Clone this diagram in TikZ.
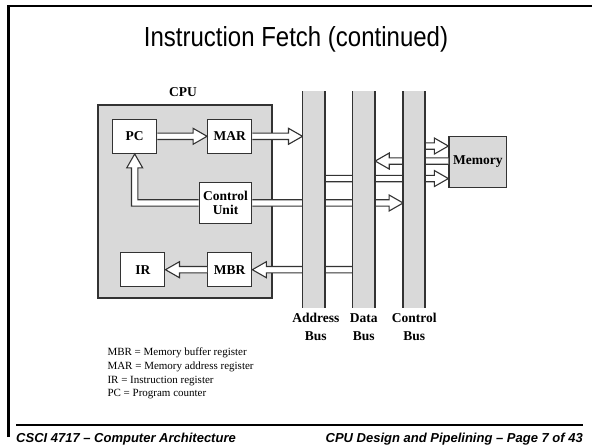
\documentclass[tikz,border=0pt]{standalone}
\usepackage{fontspec}
\setmainfont{Liberation Serif}
\newfontfamily\arialfont{Liberation Sans}
\usetikzlibrary{calc}
\definecolor{figgray}{HTML}{D9D9D9}
\definecolor{figline}{HTML}{333333}
\tikzset{
  regbox/.style={draw=figline, line width=1.3pt, fill=white, inner sep=0pt, align=center,
    font=\bfseries\fontsize{13.5}{14.5}\selectfont, minimum width=44pt, minimum height=34pt},
  fatshape/.style={draw=figline, line width=1.1pt, fill=white, line join=miter},
  busline/.style={draw=figline, line width=1.8pt},
  buslabel/.style={anchor=north, inner sep=0pt, align=center, font=\bfseries\fontsize{13.5}{18}\selectfont},
  legend/.style={anchor=west, inner sep=0pt, font=\fontsize{11}{12}\selectfont},
  footer/.style={inner sep=0pt, font=\arialfont\bfseries\itshape\fontsize{13}{15}\selectfont},
  frameline/.style={draw=black, line width=2.5pt},
}
% hollow fat arrow from #1 (tail) to #2 (tip)
\newcommand\fatarrow[2]{%
  \coordinate (fatB) at ($(#2)!14pt!(#1)$);
  \path[fatshape] ($(#1)!3.2pt!90:(#2)$) -- ($(fatB)!3.2pt!90:(#2)$) -- ($(fatB)!8pt!90:(#2)$)
     -- (#2) -- ($(fatB)!8pt!-90:(#2)$) -- ($(fatB)!3.2pt!-90:(#2)$) -- ($(#1)!3.2pt!-90:(#2)$);
}
\begin{document}
\begin{tikzpicture}[x=1pt, y=-1pt]
\useasboundingbox (0,0) rectangle (592,446);
% slide frame
\draw[frameline, line join=miter] (8.5,437) -- (8.5,6) -- (592,6);
\draw[frameline] (16,425) -- (583,425);
% title
\node[inner sep=0pt, anchor=base] (title) at (296,47) {\scalebox{1}[1.15]{\arialfont\fontsize{24}{28}\selectfont Instruction Fetch (continued)}};
% footer
\node[footer, anchor=base west] (footl) at (16,442) {CSCI 4717 – Computer Architecture};
\node[footer, anchor=base east] (footr) at (583,442) {CPU Design and Pipelining – Page 7 of 43};

% CPU
\node[draw=figline, line width=1.8pt, fill=figgray, minimum width=173.4pt, minimum height=193pt, inner sep=0pt] (cpu) at (185,201.5) {};
\node[inner sep=0pt, font=\bfseries\fontsize{13.5}{14.5}\selectfont] (cpulabel) at (183,92) {CPU};
\node[regbox] (pc) at (134.7,136.3) {PC};
\node[regbox] (mar) at (229.7,136.3) {MAR};
\node[regbox, minimum width=52.4pt, minimum height=40.7pt] (cu) at (225.5,203) {Control\\[-1pt]Unit};
\node[regbox] (ir) at (142.8,269.7) {IR};
\node[regbox] (mbr) at (229.7,269.7) {MBR};

% buses (placeholders for anchors)
\path node[minimum width=22.3pt, minimum height=216.3pt, inner sep=0pt] (abus) at (313.85,199.85) {}
      node[minimum width=22.3pt, minimum height=216.3pt, inner sep=0pt] (dbus) at (363.85,199.85) {}
      node[minimum width=21.7pt, minimum height=216.3pt, inner sep=0pt] (cbus) at (414.15,199.85) {};

% memory
\node[draw=figline, line width=1.3pt, fill=figgray, minimum width=57.7pt, minimum height=50.6pt, inner sep=0pt,
      font=\bfseries\fontsize{13.5}{14.5}\selectfont] (mem) at (477.85,162) {Memory};

% CPU internal arrows
\fatarrow{pc.east}{mar.west}
\coordinate (a1) at (mar.east -| abus.west);
\fatarrow{mar.east}{a1}
\fatarrow{mbr.west}{ir.east}
\coordinate (d1) at (mbr.east -| dbus.center);
\fatarrow{d1}{mbr.east}
\coordinate (c1) at (cu.east -| cbus.west);
\fatarrow{cu.east}{c1}
% control unit -> PC (L-shaped)
\path[fatshape] ($(cu.west)+(0,-3.2)$) -- ($(pc.south |- cu.west)+(3.2,-3.2)$) -- ($(pc.south)+(3.2,14)$)
   -- ($(pc.south)+(8,14)$) -- (pc.south) -- ($(pc.south)+(-8,14)$) -- ($(pc.south)+(-3.2,14)$)
   -- ($(pc.south |- cu.west)+(-3.2,3.2)$) -- ($(cu.west)+(0,3.2)$);

% memory arrows
\coordinate (m1) at ($(mem.north west)+(0,10)$);
\coordinate (m1s) at (m1 -| cbus.center);
\fatarrow{m1s}{m1}
\coordinate (m2) at ($(mem.north west)+(0,25)$);
\coordinate (m2t) at (m2 -| dbus.east);
\fatarrow{m2}{m2t}
\coordinate (m3) at ($(mem.north west)+(0,42.5)$);
\coordinate (m3s) at (m3 -| abus.center);
\fatarrow{m3s}{m3}

% buses drawn over
\foreach \b in {abus,dbus,cbus}{
  \fill[figgray] (\b.north west) rectangle (\b.south east);
  \draw[busline] (\b.north west) -- (\b.south west) (\b.north east) -- (\b.south east);
}
\node[buslabel] (abl) at ($(abus.south)+(2,5)$) {Address\\Bus};
\node[buslabel] (dbl) at ($(dbus.south)+(0,5)$) {Data\\Bus};
\node[buslabel] (cbl) at ($(cbus.south)+(0,5)$) {Control\\Bus};

% legend
\node[legend] (l1) at (107.3,353) {MBR = Memory buffer register};
\node[legend] (l2) at (107.3,367) {MAR = Memory address register};
\node[legend] (l3) at (107.3,381) {IR = Instruction register};
\node[legend] (l4) at (107.3,394) {PC = Program counter};
\end{tikzpicture}
\end{document}
